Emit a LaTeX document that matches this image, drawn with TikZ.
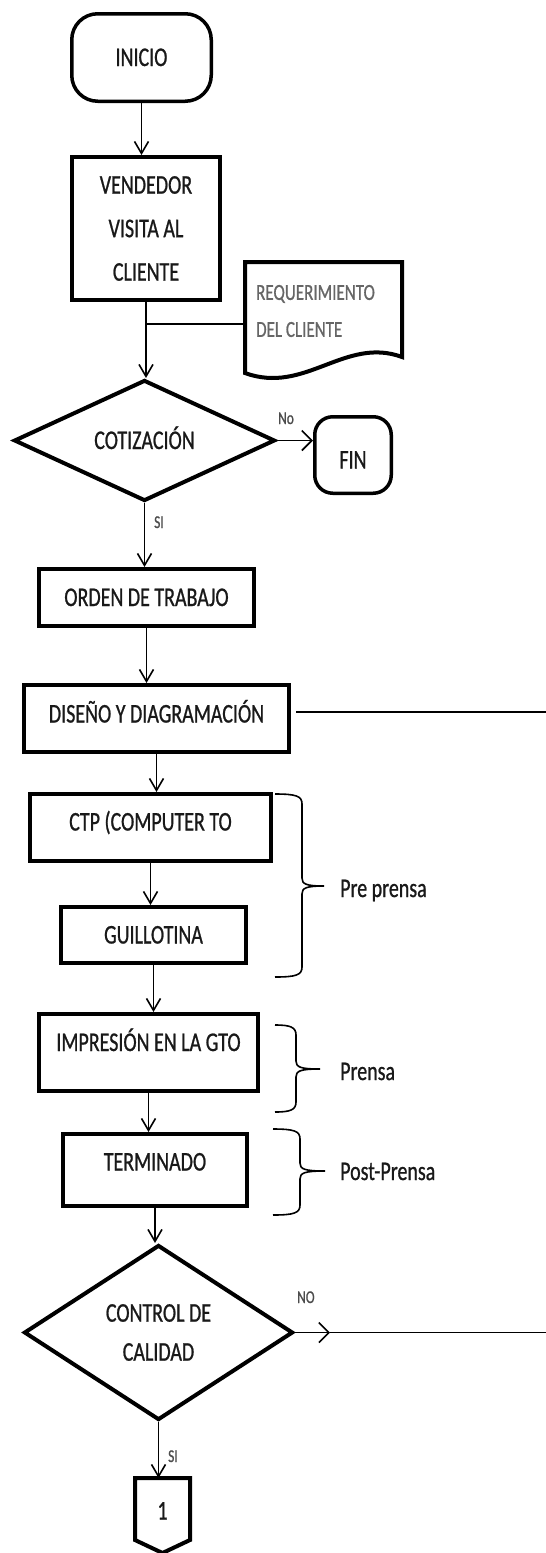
\documentclass[tikz,border=0pt]{standalone}
\usepackage{fontspec}
\setmainfont[FakeStretch=0.74,FakeBold=0.8]{Carlito}
\usetikzlibrary{arrows.meta,shapes.geometric}
\newcommand\mainfs{\fontsize{27}{43.5}\selectfont}
\newcommand\ctrlfs{\fontsize{27}{39}\selectfont}
\newcommand\docfs{\fontsize{23}{37}\selectfont}
\newcommand\lblfs{\fontsize{18}{22}\selectfont}
\newcommand\mybrace[6]{% x0 xv xt y0 ym y1
  \draw[brc] (#1,#4) .. controls (#2-6,#4) and (#2,#4+2) .. (#2,#4+10) -- (#2,#5-8)
    .. controls (#2,#5-2) and (#2+4,#5) .. (#3,#5)
    .. controls (#2+4,#5) and (#2,#5+2) .. (#2,#5+8) -- (#2,#6-10)
    .. controls (#2,#6-2) and (#2-6,#6) .. (#1,#6);}
\begin{document}
\begin{tikzpicture}[x=1pt,y=-1pt,
  every node/.style={font=\mainfs, text=black!90},
  box/.style={draw, rectangle, line width=4pt, inner sep=0pt, text height=17pt, text depth=0pt},
  box3/.style={draw, rectangle, line width=4pt, inner sep=0pt, align=center},
  term/.style={draw, rectangle, line width=3.5pt, rounded corners=26pt, inner sep=0pt, text height=17pt, text depth=0pt},
  dia/.style={draw, diamond, aspect=2, line width=4pt, inner sep=0pt},
  conn/.style={line width=1.6pt},
  varrow/.style={conn, -{Straight Barb[length=12pt,width=14pt]}},
  harrow/.style={conn, -{Straight Barb[length=10pt,width=20pt]}},
  lbl/.style={font=\lblfs, text=black!70, inner sep=0pt, anchor=base west},
  side/.style={inner sep=0pt, anchor=base west},
  brc/.style={line width=1.6pt}]
\useasboundingbox (0,0) rectangle (546,1553);

% nodes
\node[term, minimum width=139.5pt, minimum height=87.5pt] (inicio) at (141.5,57.5) {INICIO};
\node[box3, minimum width=148pt, minimum height=143pt] (vend) at (146,228.5) {VENDEDOR\\VISITA AL\\CLIENTE};
\draw[line width=4pt] (245,262) -- (402,262) -- (402,357)
   .. controls (345,336) and (305,395) .. (245,373) -- cycle;
\node[inner sep=0pt, outer sep=0pt, minimum width=141pt, minimum height=95pt,
      align=left, font=\docfs, text=black!60] (req) at (315.5,311)
      {REQUERIMIENTO\\DEL CLIENTE};
\node[dia, minimum width=261pt, minimum height=121pt, text height=17pt, text depth=0pt] (cot) at (144.5,440.5) {COTIZACIÓN};
\node[term, rounded corners=18pt, minimum width=76.5pt, minimum height=76.5pt, text height=27pt] (fin) at (353,455) {FIN};
\node[box, minimum width=215pt, minimum height=57pt] (orden) at (146.5,597.5) {ORDEN DE TRABAJO};
\node[box, minimum width=265pt, minimum height=67pt, text depth=9pt] (dis) at (156.5,718.5) {DISEÑO Y DIAGRAMACIÓN};
\node[box, minimum width=241pt, minimum height=67pt, text depth=11pt] (ctp) at (150.5,827.5) {CTP (COMPUTER TO};
\node[box, minimum width=185pt, minimum height=56pt] (gui) at (153.5,935) {GUILLOTINA};
\node[box, minimum width=219pt, minimum height=77pt, text depth=20pt] (imp) at (148.5,1052.5) {IMPRESIÓN EN LA GTO};
\node[box, minimum width=184pt, minimum height=72pt, text depth=16pt] (ter) at (155,1170) {TERMINADO};
\node[dia, minimum width=269pt, minimum height=175pt, align=center, font=\ctrlfs] (ctrl) at (158.5,1332.5) {CONTROL DE\\CALIDAD};
\draw[line width=4pt] (135,1478) -- (190,1478) -- (190,1540) -- (162.5,1553) -- (135,1540) -- cycle;
\node[inner sep=0pt, outer sep=0pt, minimum width=55pt, minimum height=75pt, text height=17pt, text depth=9pt] (one) at (162.5,1515.5) {1};

% connectors
\draw[varrow] (inicio.south) -- (inicio.south |- vend.north);
\draw[varrow] (vend.south) -- (vend.south |- cot.north);
\coordinate (J) at (146,324);
\draw[conn] (J) -- (J -| req.west);
\draw[harrow] (cot.east) -- (cot.east -| fin.west);
\draw[varrow] (cot.south) -- (cot.south |- orden.north);
\draw[varrow] (orden.south) -- (orden.south |- dis.north);
\coordinate (R1) at (546,712);
\draw[conn, shorten <=5pt] (R1 -| dis.east) -- (R1);
\draw[varrow] (dis.south) -- (dis.south |- ctp.north);
\draw[varrow] (ctp.south) -- (ctp.south |- gui.north);
\draw[varrow] (gui.south) -- (gui.south |- imp.north);
\draw[varrow] (imp.south) -- (imp.south |- ter.north);
\draw[varrow] (ter.south) -- (ter.south |- ctrl.north);
\coordinate (T2) at (330,1333);
\coordinate (R2) at (546,1333);
\draw[harrow] (ctrl.east) -- (ctrl.east -| T2);
\draw[conn] (ctrl.east -| T2) -- (ctrl.east -| R2);
\draw[varrow] (ctrl.south) -- (ctrl.south |- one.north);

% labels
\node[lbl] (lno) at (278,424) {No};
\node[lbl] (lsi1) at (154,528) {SI};
\node[lbl] (lno2) at (297,1303) {NO};
\node[lbl] (lsi2) at (168,1462) {SI};

% braces
\mybrace{275}{302}{324}{794}{886}{977}
\mybrace{275}{296}{320}{1025}{1069}{1112}
\mybrace{273}{300}{325}{1129}{1171}{1215}
\node[side] (pre) at (340,897) {Pre prensa};
\node[side] (pren) at (340,1080) {Prensa};
\node[side] (post) at (340,1180) {Post-Prensa};
\end{tikzpicture}
\end{document}
